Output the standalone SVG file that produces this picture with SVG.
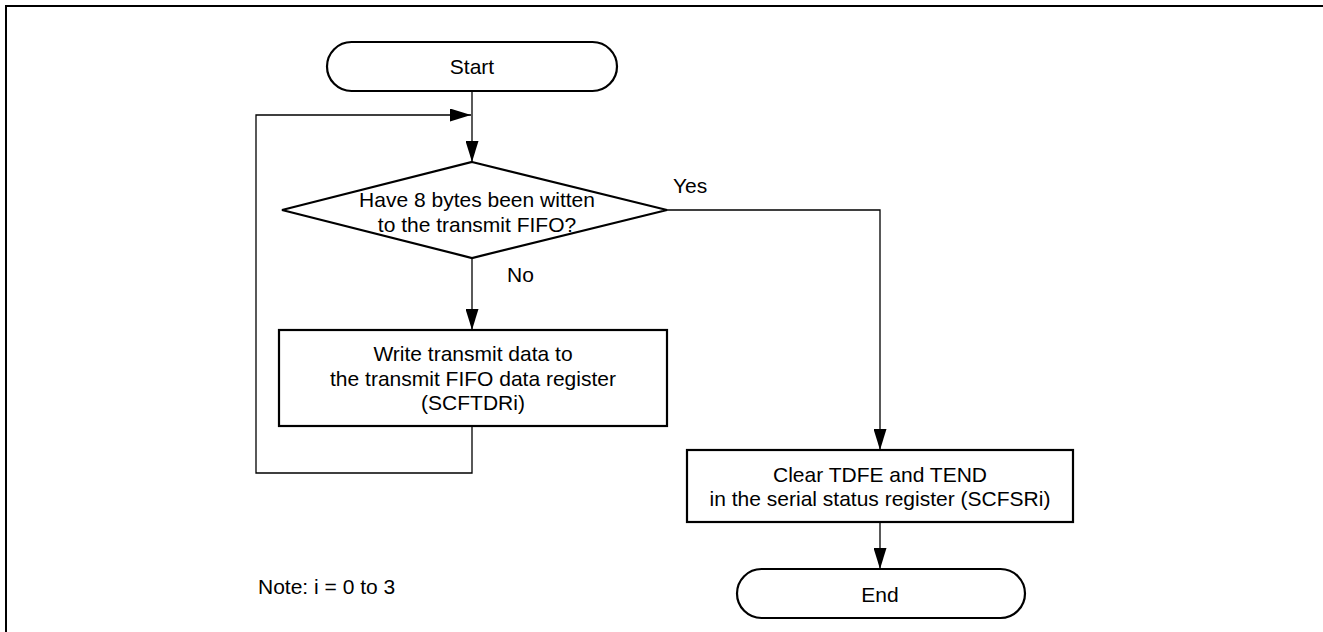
<svg xmlns="http://www.w3.org/2000/svg" width="1323" height="632" viewBox="0 0 1323 632">
<style>
.shape{fill:#fff;stroke:#000;stroke-width:2.2}
.conn{fill:none;stroke:#000;stroke-width:1.3}
text{font-family:"Liberation Sans",Arial,sans-serif;font-size:21px;fill:#000}
.c{text-anchor:middle}
</style>
<defs>
<marker id="arr" markerUnits="userSpaceOnUse" markerWidth="21" markerHeight="13" refX="21" refY="6.5" orient="auto">
<path d="M0,0 L21,6.5 L0,13 z" fill="#000"/>
</marker>
</defs>
<rect width="1323" height="632" fill="#fff"/>
<path d="M6,632 V6 H1323" fill="none" stroke="#000" stroke-width="2"/>
<g id="connectors">
<path class="conn" d="M472,91 V162" marker-end="url(#arr)"/>
<path class="conn" d="M472,258 V330" marker-end="url(#arr)"/>
<path class="conn" d="M472,426 V473 H256 V115 H471" marker-end="url(#arr)"/>
<path class="conn" d="M667,210 H880 V450" marker-end="url(#arr)"/>
<path class="conn" d="M880,522 V569" marker-end="url(#arr)"/>
<text x="673" y="193">Yes</text>
<text x="507" y="282">No</text>
</g>
<g id="start">
<rect class="shape" x="327" y="42" width="290" height="49" rx="24.5" ry="24.5"/>
<text class="c" x="472" y="73.5">Start</text>
</g>
<g id="decision">
<polygon class="shape" points="472,162 667,210 472,258 282,210"/>
<text class="c" x="477" y="207">Have 8 bytes been witten</text>
<text class="c" x="477" y="232">to the transmit FIFO?</text>
</g>
<g id="write">
<rect class="shape" x="279" y="330" width="388" height="96"/>
<text class="c" x="473" y="361">Write transmit data to</text>
<text class="c" x="473" y="385.5">the transmit FIFO data register</text>
<text class="c" x="473" y="410">(SCFTDRi)</text>
</g>
<g id="clear">
<rect class="shape" x="687" y="450" width="386" height="72"/>
<text class="c" x="880" y="481.5">Clear TDFE and TEND</text>
<text class="c" x="880" y="505.5">in the serial status register (SCFSRi)</text>
</g>
<g id="end">
<rect class="shape" x="737" y="569" width="288" height="49" rx="24.5" ry="24.5"/>
<text class="c" x="880" y="601.5">End</text>
</g>
<g id="note">
<text x="258" y="594">Note: i = 0 to 3</text>
</g>
</svg>
